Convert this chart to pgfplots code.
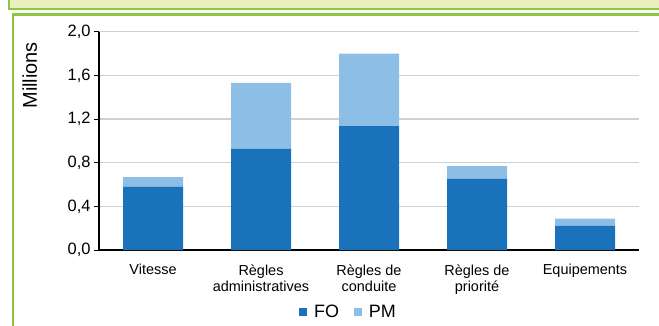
\documentclass[border=0pt]{standalone}
\usepackage{pgfplots}
\pgfplotsset{compat=1.18}
\usepackage{fontspec}
\setmainfont{Liberation Sans}
\definecolor{fo}{HTML}{1A72BB}
\definecolor{pm}{HTML}{8DBFE6}
\definecolor{cadre}{HTML}{8DC63F}
\definecolor{fondvert}{HTML}{E8F0C0}
\definecolor{grille}{HTML}{D0D0D0}

\pgfplotstableread{
x FO PM
0 0.580 0.088
1 0.928 0.604
2 1.136 0.664
3 0.653 0.116
4 0.220 0.067
}\infractions

\begin{document}
\begin{tikzpicture}[x=1bp,y=1bp]
\useasboundingbox (0,0) rectangle (659,325);
\begin{scope}
\clip (0,0) rectangle (659,325);
\draw[cadre, fill=fondvert, line width=2bp] (9,316) rectangle (700,340);
\draw[cadre, line width=2.5bp] (13,310.5) rectangle (700,-20);
\end{scope}
\begin{axis}[
  at={(99bp,75bp)}, anchor=south west,
  scale only axis, width=540bp, height=218.3bp,
  ybar stacked, bar width=60bp,
  xmin=-0.5, xmax=4.5, ymin=0, ymax=2,
  xtick=data,
  xticklabels={Vitesse, Règles\\administratives, Règles de\\conduite, Règles de\\priorité, Equipements},
  xticklabel style={align=center, anchor=north, yshift=-6bp,
    font=\fontsize{14.5}{16.5}\selectfont},
  x tick style={draw=none},
  ytick={0,0.4,0.8,1.2,1.6,2.0},
  yticklabel style={font=\fontsize{16.5}{18}\selectfont},
  /pgf/number format/.cd, fixed, fixed zerofill, precision=1, use comma, assume math mode=true,
  /pgfplots/.cd,
  ytick pos=left, tick align=outside, major tick length=5bp,
  y tick style={black, line width=1bp},
  ymajorgrids, grid style={grille, line width=1.3bp},
  axis x line*=bottom, axis y line*=left,
  axis line style={black, line width=1.3bp},
  ylabel={Millions},
  ylabel style={font=\fontsize{20}{22}\selectfont, at={(axis description cs:-0.128,0.80)}, anchor=center},
  legend columns=2,
  legend style={draw=none, fill=none, font=\fontsize{18}{20}\selectfont,
    at={(0.462,-0.284)}, anchor=center,
    /tikz/every odd column/.append style={column sep=5bp},
    /tikz/every even column/.append style={column sep=13bp}},
  legend image code/.code={\fill[#1] (0bp,-4bp) rectangle (8bp,4bp);},
]
\addplot[fill=fo, draw=none] table[x=x, y=FO] {\infractions};
\addlegendentry{FO}
\addplot[fill=pm, draw=none] table[x=x, y=PM] {\infractions};
\addlegendentry{PM}
\end{axis}
\end{tikzpicture}
\end{document}
